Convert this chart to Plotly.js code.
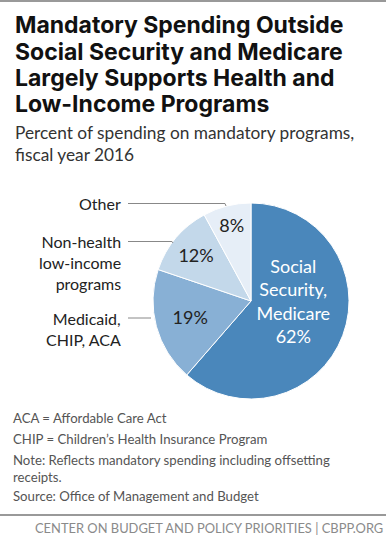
<!DOCTYPE html>
<html>
<head>
<meta charset="utf-8">
<script src="https://cdn.plot.ly/plotly-3.0.1.min.js"></script>
<style>
html,body{margin:0;padding:0;background:#fff;}
#chart{width:386px;height:544px;}
</style>
</head>
<body>
<div id="chart"></div>
<script>
const categories = ["Social Security, Medicare", "Medicaid, CHIP, ACA", "Non-health low-income programs", "Other"];
const values = [62, 19, 12, 8];
const sliceLabels = ["Social<br>Security,<br>Medicare<br>62%", "19%", "12%", "8%"];
const colors = ["#4a87bb", "#88b0d5", "#c3d8ea", "#e6eef7"];
const textColors = ["#ffffff", "#222222", "#222222", "#222222"];
const titleLines = ["Mandatory Spending Outside", "Social Security and Medicare", "Largely Supports Health and", "Low-Income Programs"];
const outsideLabels = ["Other", "Non-health<br>low-income<br>programs", "Medicaid,<br>CHIP, ACA"];
const notes = ["ACA = Affordable Care Act", "CHIP = Children’s Health Insurance Program", "Note: Reflects mandatory spending including offsetting<br>receipts.", "Source: Office of Management and Budget"];
const footer = "CENTER ON BUDGET AND POLICY PRIORITIES | CBPP.ORG";

const W = 386, H = 544;
const px = x => x / W;
const py = y => 1 - y / H;

const FONT = "Lato, 'Open Sans', sans-serif";
const TFONT = "Inter, Lato, sans-serif";

const trace = {
  type: "pie",
  labels: categories,
  values: values,
  text: sliceLabels,
  textinfo: "text",
  textposition: "inside",
  insidetextorientation: "horizontal",
  sort: false,
  direction: "clockwise",
  rotation: 0,
  hoverinfo: "label+value",
  marker: {colors: colors, line: {color: "#ffffff", width: 1}},
  insidetextfont: {color: textColors, size: 18, family: FONT},
  domain: {x: [px(153), px(349)], y: [py(399), py(203)]},
  showlegend: false
};

const annotations = [];
// title lines
const titleY = [25, 51.5, 77.5, 104];
titleLines.forEach((t, i) => {
  annotations.push({text: "<b>" + t + "</b>", xref: "paper", yref: "paper", x: px(13), y: py(titleY[i]),
    xanchor: "left", yanchor: "middle", align: "left", showarrow: false,
    font: {family: TFONT, size: 23, color: "#111"}});
});
// outside labels
const lab = [];
lab.push({text: outsideLabels[0], x: px(123), y: py(203), xanchor: "right", yanchor: "middle"});
lab.push({text: outsideLabels[1], x: px(123), y: py(230), xanchor: "right", yanchor: "top"});
lab.push({text: outsideLabels[2], x: px(123), y: py(307), xanchor: "right", yanchor: "top"});
lab.forEach(a => {
  a.xref = "paper"; a.yref = "paper"; a.showarrow = false; a.align = "right";
  a.font = {family: FONT, size: 16, color: "#222"};
  annotations.push(a);
});
// subtitle
annotations.push({text: "Percent of spending on mandatory programs,<br>fiscal year 2016", xref: "paper", yref: "paper",
  x: px(13), y: py(120), xanchor: "left", yanchor: "top", align: "left", showarrow: false,
  font: {family: FONT, size: 17.3, color: "#333"}});
// notes
const noteY = [408, 429, 450, 486];
notes.forEach((n, i) => {
  annotations.push({text: n, xref: "paper", yref: "paper", x: px(11), y: py(noteY[i]), xanchor: "left", yanchor: "top",
    align: "left", showarrow: false, font: {family: FONT, size: 13.2, color: "#555"}});
});
// footer
annotations.push({text: footer, xref: "paper", yref: "paper", x: px(385), y: py(528), xanchor: "right", yanchor: "middle",
  showarrow: false, font: {family: FONT, size: 12.9, color: "#8a8a8a"}});

const lineStyle = {color: "#888", width: 1};
function pathPx(pts){
  return "M" + pts.map(p => px(p[0]) + "," + py(p[1])).join(" L");
}
const shapes = [
  {type: "line", xref: "paper", yref: "paper", x0: 0, x1: 1, y0: py(1), y1: py(1), line: {color: "#999", width: 2}},
  {type: "line", xref: "paper", yref: "paper", x0: 0, x1: 1, y0: py(515), y1: py(515), line: {color: "#777", width: 1.5}},
  {type: "path", xref: "paper", yref: "paper", path: pathPx([[128,203.5],[225,203.5],[226,206]]), line: lineStyle},
  {type: "path", xref: "paper", yref: "paper", path: pathPx([[128,241.5],[172,241.5],[173,243]]), line: lineStyle},
  {type: "line", xref: "paper", yref: "paper", x0: px(128), x1: px(151), y0: py(318), y1: py(318), line: lineStyle}
];

const layout = {
  width: W, height: H,
  margin: {l: 0, r: 0, t: 0, b: 0},
  paper_bgcolor: "#fff",
  annotations: annotations,
  shapes: shapes
};

Plotly.newPlot("chart", [trace], layout, {displayModeBar: false, staticPlot: true});
</script>
</body>
</html>
